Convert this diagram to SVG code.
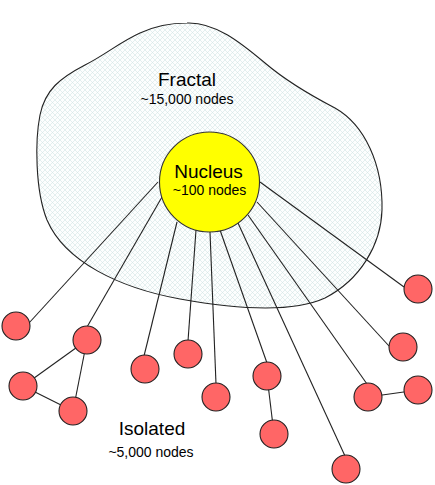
<svg xmlns="http://www.w3.org/2000/svg" width="435" height="485" viewBox="0 0 435 485">
<style>
.edge{stroke:#222;stroke-width:1.1;fill:none}
.node{fill:#ff6666;stroke:#222;stroke-width:1.1}
.nuc{fill:#ffff00;stroke:#333;stroke-width:1.1}
.blob{fill:url(#hatch);stroke:#222;stroke-width:1.1}
.t{font-family:"Liberation Sans",Arial,sans-serif;fill:#000;text-anchor:middle}
.big{font-size:19px}
.small{font-size:14px}
</style>
<defs>
<pattern id="hatch" patternUnits="userSpaceOnUse" width="5" height="5">
<rect width="5" height="5" fill="#fdfefe"/>
<path d="M0,0 L5,5 M5,0 L0,5" stroke="#d0e2e2" stroke-width="0.55"/>
</pattern>
</defs>
<g id="fractal">
<path class="blob" d="M187,23 C215,22 240,42 265,63 C285,80 310,95 335,108 C365,125 383,165 382,210 C381,245 360,280 325,298 C290,314 230,308 180,299 C120,288 65,262 47,220 C35,190 35,140 40,115 C45,90 60,78 85,65 C105,55 120,42 140,33 C155,26 170,23 187,23 Z"/>
<text class="t big" x="187" y="86">Fractal</text>
<text class="t small" x="187" y="104">~15,000 nodes</text>
</g>
<g id="connectors">
<line class="edge" x1="158" y1="182" x2="29" y2="323"/>
<line class="edge" x1="162" y1="197" x2="87" y2="327"/>
<line class="edge" x1="177" y1="222" x2="144" y2="356"/>
<line class="edge" x1="196" y1="230" x2="188" y2="341"/>
<line class="edge" x1="210" y1="232" x2="216" y2="384"/>
<line class="edge" x1="220" y1="230" x2="267" y2="363"/>
<line class="edge" x1="238" y1="223" x2="345" y2="456"/>
<line class="edge" x1="248" y1="215" x2="367" y2="384"/>
<line class="edge" x1="257" y1="202" x2="389" y2="346"/>
<line class="edge" x1="260" y1="182" x2="404" y2="287"/>
<line class="edge" x1="87" y1="340" x2="23" y2="386"/>
<line class="edge" x1="87" y1="340" x2="73" y2="411"/>
<line class="edge" x1="23" y1="386" x2="73" y2="411"/>
<line class="edge" x1="267" y1="376" x2="274" y2="434"/>
<line class="edge" x1="368" y1="397" x2="418" y2="390"/>
</g>
<g id="nucleus">
<circle class="nuc" cx="209.5" cy="182" r="50"/>
<text class="t big" x="208.5" y="178">Nucleus</text>
<text class="t small" x="209.5" y="195">~100 nodes</text>
</g>
<g id="n1"><circle class="node" cx="16" cy="326" r="14"/></g>
<g id="n2"><circle class="node" cx="87" cy="340" r="14"/></g>
<g id="n3"><circle class="node" cx="23" cy="386" r="14"/></g>
<g id="n4"><circle class="node" cx="73" cy="411" r="14"/></g>
<g id="n5"><circle class="node" cx="145" cy="369" r="14"/></g>
<g id="n6"><circle class="node" cx="188" cy="354" r="14"/></g>
<g id="n7"><circle class="node" cx="216" cy="397" r="14"/></g>
<g id="n8"><circle class="node" cx="267" cy="376" r="14"/></g>
<g id="n9"><circle class="node" cx="274" cy="434" r="14"/></g>
<g id="n10"><circle class="node" cx="346" cy="469" r="14"/></g>
<g id="n11"><circle class="node" cx="368" cy="397" r="14"/></g>
<g id="n12"><circle class="node" cx="418" cy="390" r="14"/></g>
<g id="n13"><circle class="node" cx="403" cy="347" r="14"/></g>
<g id="n14"><circle class="node" cx="418" cy="289" r="14"/></g>
<g id="isolated">
<text class="t big" x="152" y="435">Isolated</text>
<text class="t small" x="151" y="457">~5,000 nodes</text>
</g>
</svg>
